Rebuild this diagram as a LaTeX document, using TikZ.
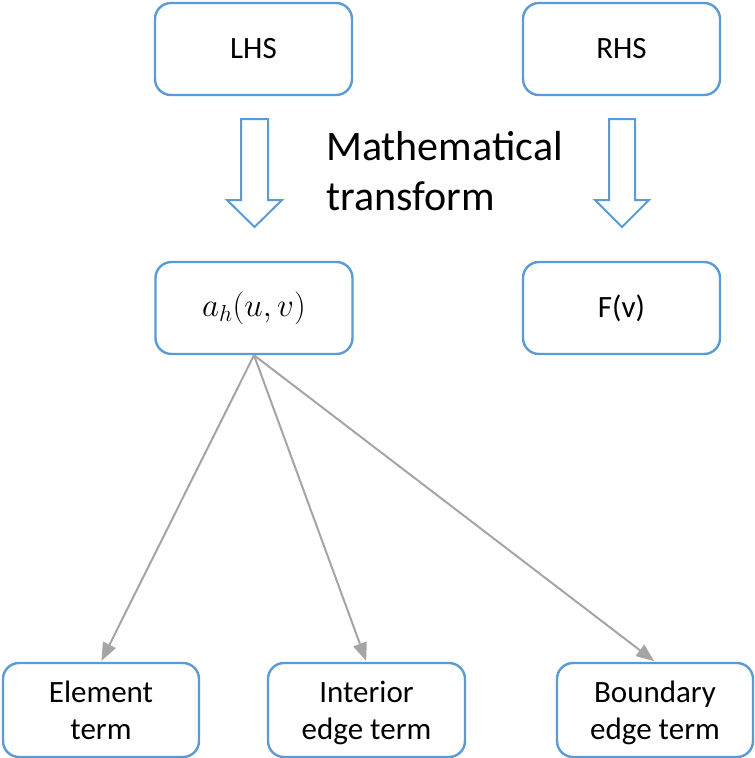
\RequirePackage{fix-cm}
\documentclass[tikz,border=0pt]{standalone}
\usepackage{fontspec}
\setmainfont{Carlito}
\usetikzlibrary{arrows.meta}
\definecolor{boxblue}{HTML}{5B9BD5}
\definecolor{linkgray}{HTML}{A5A5A5}
% taller strut for the first line of two-line labels
\newcommand{\toprule}{\rule{0pt}{34pt}}
\tikzset{
  termbox/.style={draw=boxblue, line width=2.4pt, rounded corners=16pt, fill=white,
    minimum width=197pt, minimum height=92pt, inner sep=0pt, align=center,
    font=\fontsize{31}{37}\selectfont},
  blockarrow/.style={draw=boxblue, line width=2pt, fill=white, line join=miter},
  link/.style={draw=linkgray, line width=2pt, -{Triangle[length=18pt,width=14pt]}, shorten >=1pt},
}
\begin{document}
\begin{tikzpicture}[x=1pt, y=-1pt]
  \useasboundingbox (0,0) rectangle (755,758);

  % top row
  \node[termbox] (lhs) at (253.5,49) {LHS};
  \node[termbox] (rhs) at (621.5,49) {RHS};

  % transformed forms
  \node[termbox] (ah) at (254,308) {\fontsize{33}{40}\selectfont$a_h(u,v)$};
  \node[termbox] (fv) at (621.5,308) {F(v)};

  % hollow block arrows
  \draw[blockarrow] (241,119) -- (268,119) -- (268,200) -- (282,200) -- (254.5,227)
    -- (227,200) -- (241,200) -- cycle;
  \draw[blockarrow] (609,119) -- (635,119) -- (635,200) -- (649,200) -- (622,227)
    -- (595,200) -- (609,200) -- cycle;

  \node[anchor=base west, align=left, inner sep=0pt,
        font=\fontsize{42}{50}\selectfont] (mt) at (326,210) {Mathematical\\transform};

  % split of the bilinear form
  \node[termbox, minimum width=196pt, minimum height=94pt] (el) at (101,710) {\toprule Element\\term\strut};
  \node[termbox, minimum height=94pt] (ie) at (366.5,710) {\toprule Interior\\edge term\strut};
  \node[termbox, minimum width=196pt, minimum height=94pt] (be) at (655,710) {\toprule Boundary\\edge term\strut};

  \draw[link] (ah.south) -- (el.north);
  \draw[link] (ah.south) -- (ie.north);
  \draw[link] (ah.south) -- (be.north);
\end{tikzpicture}
\end{document}
